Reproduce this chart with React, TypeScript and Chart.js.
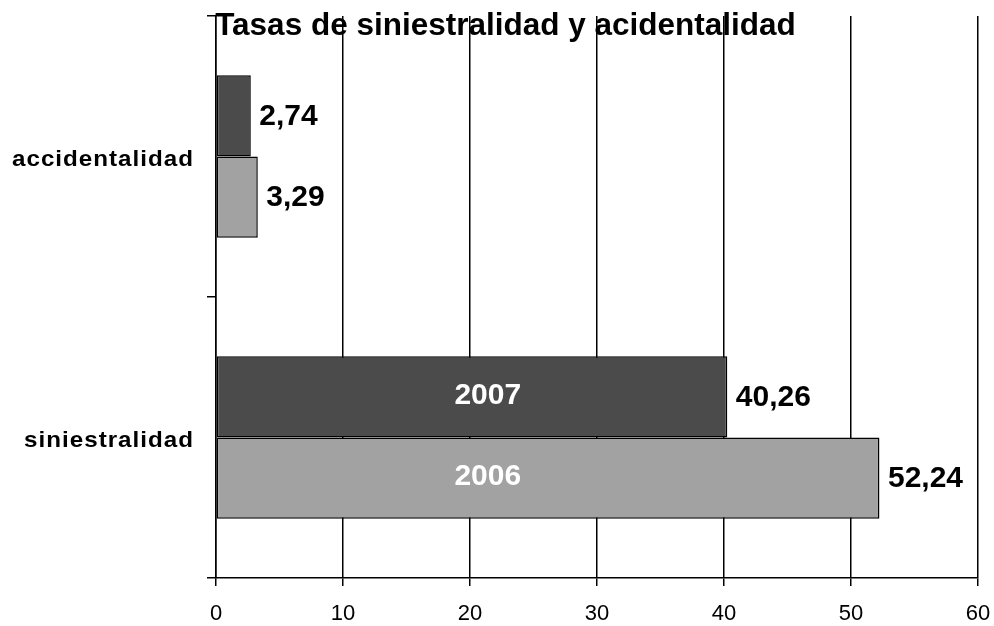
import React, { useEffect, useRef } from 'react';
import { Chart, registerables } from 'chart.js';

Chart.register(...registerables);

// ---- Data ----
const CATEGORIES: string[] = ['accidentalidad', 'siniestralidad'];
const SERIES_NAMES: string[] = ['2007', '2006'];
const VALUES_2007: number[] = [2.74, 40.26];
const VALUES_2006: number[] = [3.29, 52.24];
const SERIES_COLORS: string[] = ['#4b4b4b', '#a2a2a2'];
const X_MIN = 0;
const X_MAX = 60;
const X_STEP = 10;
const TITLE = 'Tasas de siniestralidad y acidentalidad';
const SERIES_LABEL_CATEGORY = 1; // series names shown on the siniestralidad bars
const SERIES_LABEL_AT = 21.4; // x value where the series names are centred

const FONT = '"Liberation Sans", Arial, Helvetica, sans-serif';

const fmt = (v: number) => v.toFixed(2).replace('.', ',');

export default function App() {
  const ref = useRef<HTMLCanvasElement | null>(null);

  useEffect(() => {
    if (!ref.current) return;

    const customPlugin = {
      id: 'customLabels',
      afterDatasetsDraw(chart: any) {
        const ctx = chart.ctx as CanvasRenderingContext2D;
        const xScale = chart.scales.x;
        ctx.save();
        chart.data.datasets.forEach((ds: any, di: number) => {
          const meta = chart.getDatasetMeta(di);
          meta.data.forEach((bar: any, i: number) => {
            const v = ds.data[i] as number;
            ctx.font = `bold 30px ${FONT}`;
            ctx.fillStyle = '#000';
            ctx.textAlign = 'left';
            ctx.textBaseline = 'middle';
            ctx.fillText(fmt(v), bar.x + 8.5, bar.y + 1);
            if (i === SERIES_LABEL_CATEGORY) {
              ctx.fillStyle = '#fff';
              ctx.textAlign = 'center';
              ctx.fillText(ds.label, xScale.getPixelForValue(SERIES_LABEL_AT), bar.y - 1);
            }
          });
        });
        ctx.restore();
      },
      afterDraw(chart: any) {
        const ctx = chart.ctx as CanvasRenderingContext2D;
        const yScale = chart.scales.y;
        ctx.save();
        // category labels (slightly widened, with a little letter spacing)
        ctx.font = `bold 22px ${FONT}`;
        ctx.fillStyle = '#000';
        ctx.textAlign = 'left';
        ctx.textBaseline = 'alphabetic';
        const spacing = 0.9;
        const sx = 1.1;
        const rightEdge = yScale.right - 23;
        (chart.data.labels as string[]).forEach((lab, i) => {
          const chars = lab.split('');
          const widths = chars.map((c) => ctx.measureText(c).width);
          const total = (widths.reduce((a, b) => a + b, 0) + spacing * (chars.length - 1)) * sx;
          const y = yScale.getPixelForValue(i) + 9;
          ctx.save();
          ctx.translate(rightEdge - total, y);
          ctx.scale(sx, 1);
          let x = 0;
          chars.forEach((c, k) => {
            ctx.fillText(c, x, 0);
            x += widths[k] + spacing;
          });
          ctx.restore();
        });
        // title
        ctx.font = `bold 31.5px ${FONT}`;
        ctx.textAlign = 'center';
        ctx.textBaseline = 'alphabetic';
        ctx.fillText(TITLE, 505.5, 35);
        ctx.restore();
      },
    };

    const chart = new Chart(ref.current, {
      type: 'bar',
      data: {
        labels: CATEGORIES,
        datasets: [
          {
            label: SERIES_NAMES[0],
            data: VALUES_2007,
            backgroundColor: SERIES_COLORS[0],
            borderColor: '#000',
            borderWidth: 1.5,
            borderSkipped: false,
          },
          {
            label: SERIES_NAMES[1],
            data: VALUES_2006,
            backgroundColor: SERIES_COLORS[1],
            borderColor: '#000',
            borderWidth: 1.5,
            borderSkipped: false,
          },
        ],
      },
      options: {
        indexAxis: 'y',
        responsive: false,
        animation: false,
        devicePixelRatio: 1,
        layout: { padding: { top: 16, right: 16, left: 0, bottom: 0 } },
        datasets: {
          bar: { categoryPercentage: 0.578, barPercentage: 1 },
        },
        plugins: {
          legend: { display: false },
          title: { display: false },
          tooltip: { enabled: false },
        },
        scales: {
          x: {
            type: 'linear',
            min: X_MIN,
            max: X_MAX,
            ticks: {
              stepSize: X_STEP,
              color: '#000',
              font: { family: FONT, size: 22 },
              padding: 15,
              maxRotation: 0,
            },
            grid: {
              color: '#000',
              lineWidth: 1.5,
              tickLength: 8,
              drawOnChartArea: true,
              drawTicks: true,
            },
            border: { display: true, color: '#000', width: 1.5 },
            afterFit: (scale: any) => {
              scale.height = 48;
              scale.paddingLeft = 0;
              scale.paddingRight = 0;
            },
          },
          y: {
            type: 'category',
            offset: true,
            ticks: { display: false },
            grid: {
              offset: true,
              color: '#000',
              lineWidth: 1.5,
              tickLength: 9,
              drawOnChartArea: false,
              drawTicks: true,
            },
            border: { display: true, color: '#000', width: 1.5 },
            afterFit: (scale: any) => {
              scale.width = 216;
              scale.paddingTop = 0;
              scale.paddingBottom = 0;
            },
          },
        },
      },
      plugins: [customPlugin],
    } as any);

    return () => chart.destroy();
  }, []);

  return (
    <div style={{ position: 'absolute', left: 0, top: 0, width: 994, height: 626, background: '#fff' }}>
      <canvas ref={ref} width={994} height={626} style={{ display: 'block' }} />
    </div>
  );
}
